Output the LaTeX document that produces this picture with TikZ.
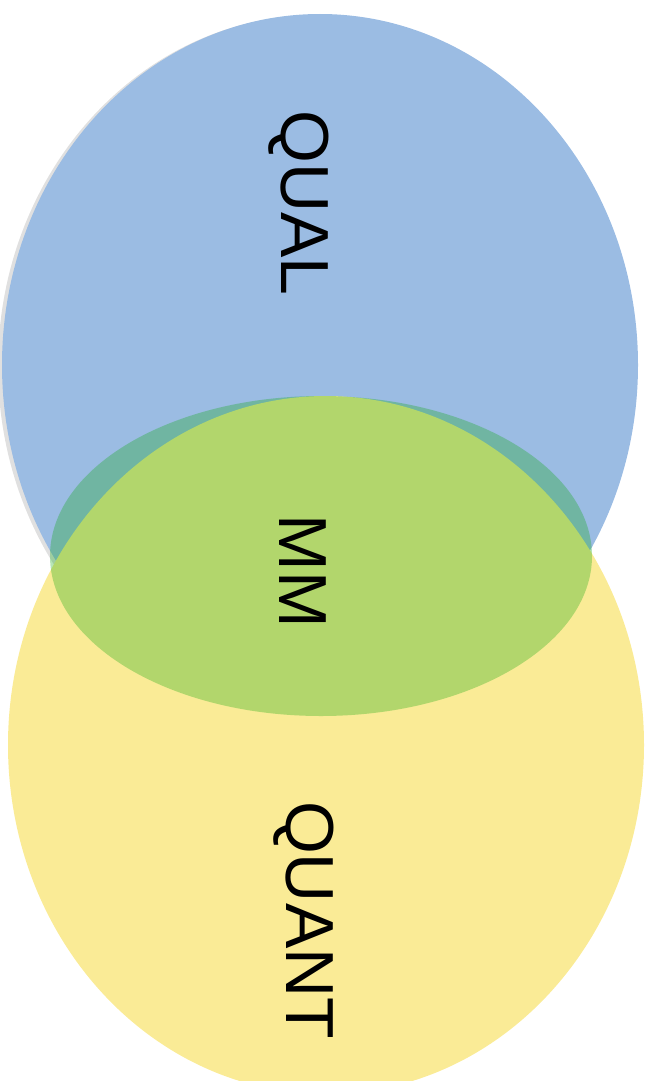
\documentclass[tikz,border=0pt]{standalone}
\usepackage{fontspec}
\setmainfont{Liberation Sans}
\definecolor{qualblue}{RGB}{155,188,227}
\definecolor{quantyellow}{RGB}{250,235,150}
\definecolor{mmgreen}{RGB}{13,168,13}

\begin{document}
\begin{tikzpicture}[x=1pt,y=-1pt]
\clip (0,0) rectangle (651,1081);
\useasboundingbox (0,0) rectangle (651,1081);

\begin{scope}
    % soft shadow of the blue one
    \fill[black,opacity=0.12] (317,366) ellipse [x radius=319, y radius=351];
    \fill[qualblue] (320,365) ellipse [x radius=318, y radius=351];
    \fill[quantyellow] (326,745) ellipse [x radius=318, y radius=349];
    \fill[mmgreen,opacity=0.3] (321,556) ellipse [x radius=271, y radius=160];
\end{scope}

\begin{scope}[every node/.style={rotate=-90,inner sep=0pt,font=\fontsize{68}{68}\selectfont}]
    \node (QL) at (299,203) {QUAL};
    \node (MM) at (303,571) {MM};
    \node (QN) at (304,920) {QUANT};
\end{scope}
\end{tikzpicture}
\end{document}
